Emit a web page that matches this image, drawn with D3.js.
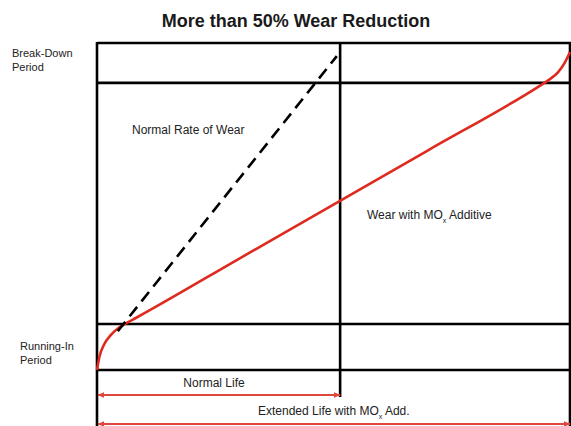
<!DOCTYPE html>
<html><head><meta charset="utf-8">
<script src="https://cdn.jsdelivr.net/npm/d3@7"></script>
<style>body{margin:0;background:#fff}svg{display:block}text{font-family:"Liberation Sans",Arial,Helvetica,sans-serif;fill:#222}</style>
</head><body>
<script>
// ---- data (life %, wear %) ----
const wearLevels = [0, 14.07, 87.8, 100];          // running-in / normal / break-down boundaries
const lifeMarks = [0, 51.4, 100];                   // start, normal life end, extended life end
const moxX = [0, 0.5, 1.5, 3.0, 4.6, 6.3, 8.2, 10.5, 30, 50, 70, 92.6, 95.3, 97.5, 98.9, 100];
const moxY = [0, 4.0, 7.8, 10.8, 12.9, 14.4, 15.9, 17.75, 34.0, 50.6, 67.2, 86.0, 88.5, 91.1, 94.0, 97.2];
const normalX = [4.4, 50.7];
const normalY = [11.9, 96.0];
const bandLabels = [["Break-Down","Period"],["Running-In","Period"]];
const lifeLabels = ["Normal Life","Extended Life with MO"];

const W=571,H=426;
const svg=d3.select("body").append("svg").attr("width",W).attr("height",H);
const x=d3.scaleLinear([0,100],[97,570]);
const y=d3.scaleLinear([0,100],[370,43]);
const RED="#de2a1f", ARW="#e0473c";

svg.append("defs").selectAll("marker").data(["s","e"]).join("marker")
  .attr("id",d=>"ar"+d).attr("viewBox","0 0 10 10").attr("refX",d=>d==="e"?9:1).attr("refY",5)
  .attr("markerWidth",7).attr("markerHeight",7).attr("markerUnits","userSpaceOnUse").attr("orient","auto")
  .append("path").attr("d",d=>d==="e"?"M0,1L10,5L0,9Z":"M10,1L0,5L10,9Z").attr("fill",ARW);

svg.append("text").attr("x",296).attr("y",27).attr("text-anchor","middle")
  .style("font-size","18px").style("font-weight","bold").style("fill","#1a1a1a").text("More than 50% Wear Reduction");

// grid
const g=svg.append("g").attr("stroke","#000").attr("stroke-width",2.6);
wearLevels.forEach(v=>g.append("line").attr("x1",x(0)).attr("x2",x(100)+1).attr("y1",y(v)).attr("y2",y(v)));
g.append("line").attr("x1",x(0)).attr("x2",x(0)).attr("y1",y(100)-1).attr("y2",H);
g.append("line").attr("x1",x(100)).attr("x2",x(100)).attr("y1",y(100)-1).attr("y2",H);
g.append("line").attr("x1",x(lifeMarks[1])).attr("x2",x(lifeMarks[1])).attr("y1",y(100)-1).attr("y2",397);

// curves
const pts=moxX.map((v,i)=>[v,moxY[i]]);
svg.append("path").attr("d",d3.line().x(d=>x(d[0])).y(d=>y(d[1])).curve(d3.curveMonotoneX)(pts))
  .attr("fill","none").attr("stroke",RED).attr("stroke-width",2.6);
svg.append("path").attr("d",d3.line().x(d=>x(d[0])).y(d=>y(d[1]))(normalX.map((v,i)=>[v,normalY[i]])))
  .attr("fill","none").attr("stroke","#000").attr("stroke-width",2.6).attr("stroke-dasharray","12,7");

// band labels
[[12,57],[20,350]].forEach((p,i)=>{
  const t=svg.append("text").attr("x",p[0]).attr("y",p[1]).style("font-size","11px");
  t.append("tspan").attr("x",p[0]).text(bandLabels[i][0]);
  t.append("tspan").attr("x",p[0]).attr("dy",14).text(bandLabels[i][1]);
});
const fs="12px";
svg.append("text").attr("x",132).attr("y",134).style("font-size",fs).text("Normal Rate of Wear");
const tw=svg.append("text").attr("x",367).attr("y",219).style("font-size",fs);
tw.append("tspan").text("Wear with MO");
tw.append("tspan").attr("dy",4).style("font-size","7px").text("x");
tw.append("tspan").attr("dy",-4).text(" Additive");

// life arrows
svg.append("line").attr("x1",x(0)+1).attr("x2",x(lifeMarks[1])).attr("y1",395).attr("y2",395)
  .attr("stroke",ARW).attr("stroke-width",1.8).attr("marker-start","url(#ars)").attr("marker-end","url(#are)");
svg.append("line").attr("x1",x(0)+1).attr("x2",x(100)).attr("y1",424).attr("y2",424)
  .attr("stroke",ARW).attr("stroke-width",1.8).attr("marker-start","url(#ars)").attr("marker-end","url(#are)");
svg.append("text").attr("x",214).attr("y",387).attr("text-anchor","middle").style("font-size",fs).text(lifeLabels[0]);
const te=svg.append("text").attr("x",258).attr("y",415).style("font-size",fs);
te.append("tspan").text(lifeLabels[1]);
te.append("tspan").attr("dy",4).style("font-size","7px").text("x");
te.append("tspan").attr("dy",-4).text(" Add.");
</script>
</body></html>
